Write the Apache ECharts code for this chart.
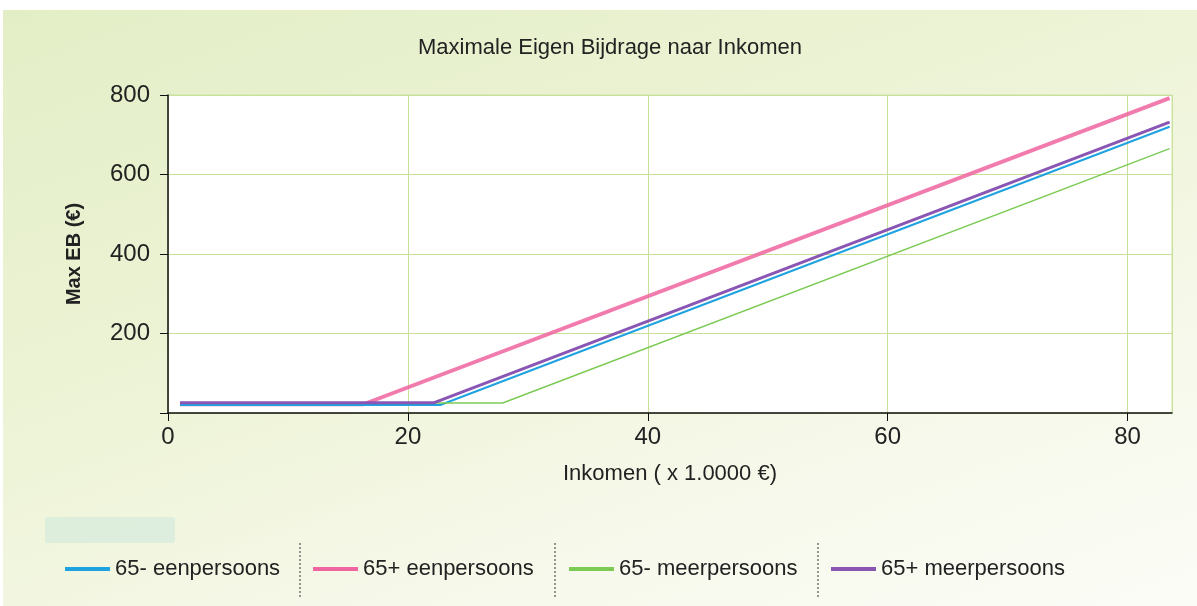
<!DOCTYPE html>
<html>
<head>
<meta charset="utf-8">
<script src="https://cdn.jsdelivr.net/npm/echarts@6/dist/echarts.min.js"></script>
<style>
  html, body { margin: 0; padding: 0; background: #ffffff; }
  #chart {
    position: absolute; left: 3px; top: 10px; width: 1194px; height: 596px;
    background: linear-gradient(160deg, #e3eec6 0%, #eef4d8 45%, #f7f9ec 75%, #fbfcf6 100%);
  }
</style>
</head>
<body>
<div id="chart"></div>
<script>
// ---- data ----
const seriesNames = ['65- eenpersoons', '65+ eenpersoons', '65- meerpersoons', '65+ meerpersoons'];
const xTicks = [0, 20, 40, 60, 80];
const yTicks = [200, 400, 600, 800];
// each series: income (x 1000 €) and max eigen bijdrage (€)
const incomeEenMin = [1, 22.7, 83.5];
const ebEenMin     = [20, 20, 720];
const incomeEenPlus = [1, 16.3, 83.5];
const ebEenPlus     = [22, 22, 792];
const incomeMeerMin = [1, 27.9, 83.5];
const ebMeerMin     = [25, 25, 665];
const incomeMeerPlus = [1, 22.2, 83.5];
const ebMeerPlus     = [26, 26, 732];

const colors = ['#1fa2e0', '#f0649f', '#7ccb55', '#8a56b4'];
const widths = [2, 4, 1.5, 3];
const xs = [incomeEenMin, incomeEenPlus, incomeMeerMin, incomeMeerPlus];
const ys = [ebEenMin, ebEenPlus, ebMeerMin, ebMeerPlus];

const font = 'Liberation Sans, Arial, sans-serif';
const chart = echarts.init(document.getElementById('chart'));

const series = seriesNames.map((n, i) => ({
  name: n,
  type: 'line',
  data: xs[i].map((x, k) => [x, ys[i][k]]),
  showSymbol: false,
  symbol: 'none',
  lineStyle: { color: colors[i], width: widths[i], opacity: i === 1 ? 0.85 : 1 },
  itemStyle: { color: colors[i] },
  z: [2, 1, 3, 4][i],
  animation: false
}));

const legendLefts = [57, 305, 561, 823];
const legends = seriesNames.map((n, i) => ({
  data: [n],
  left: legendLefts[i],
  top: 543,
  icon: 'rect',
  itemWidth: 45,
  itemHeight: 4,
  itemGap: 0,
  textStyle: { fontFamily: font, fontSize: 22, color: '#222' },
  selectedMode: false
}));

const sepX = [297, 552, 815];
const graphics = sepX.map(x => ({
  type: 'line',
  shape: { x1: x, y1: 533, x2: x, y2: 588 },
  style: { stroke: '#333', lineWidth: 1, lineDash: [2, 2] }
}));
graphics.push({
  type: 'rect',
  shape: { x: 42, y: 507, width: 130, height: 26, r: 3 },
  style: { fill: '#d6ebdd', opacity: 0.7 },
  z: -1
});

chart.setOption({
  backgroundColor: 'transparent',
  animation: false,
  title: {
    text: 'Maximale Eigen Bijdrage naar Inkomen',
    left: 410,
    top: 22,
    textStyle: { fontFamily: font, fontSize: 22, fontWeight: 'normal', color: '#222' }
  },
  legend: legends,
  graphic: graphics,
  grid: {
    left: 165, right: 25, top: 85, bottom: 193,
    show: true, backgroundColor: '#ffffff', borderColor: '#cfe3a6', borderWidth: 1
  },
  xAxis: {
    type: 'value',
    min: 0, max: 83.7, interval: 20,
    name: 'Inkomen ( x 1.0000 €)',
    nameLocation: 'middle',
    nameGap: 50,
    nameTextStyle: { fontFamily: font, fontSize: 22, color: '#222' },
    axisLine: { show: true, onZero: false, lineStyle: { color: '#111', width: 1.5 } },
    axisTick: { show: true, inside: false, length: 8, lineStyle: { color: '#111' } },
    axisLabel: {
      fontFamily: font, fontSize: 24, color: '#222', margin: 12,
      showMaxLabel: false,
      formatter: v => (xTicks.includes(v) ? String(v) : '')
    },
    splitLine: { show: true, lineStyle: { color: '#c8e09a', width: 1 } }
  },
  yAxis: {
    type: 'value',
    min: 0, max: 800, interval: 200,
    name: 'Max EB (€)',
    nameLocation: 'middle',
    nameGap: 84,
    nameTextStyle: { fontFamily: font, fontSize: 20, color: '#222', fontWeight: 'bold' },
    axisLine: { show: true, lineStyle: { color: '#111', width: 1.5 } },
    axisTick: { show: true, inside: false, length: 8, lineStyle: { color: '#111' } },
    axisLabel: {
      fontFamily: font, fontSize: 24, color: '#222', margin: 18,
      formatter: v => (yTicks.includes(v) ? String(v) : '')
    },
    splitLine: { show: true, lineStyle: { color: '#c8e09a', width: 1 } }
  },
  series: series
});
</script>
</body>
</html>
